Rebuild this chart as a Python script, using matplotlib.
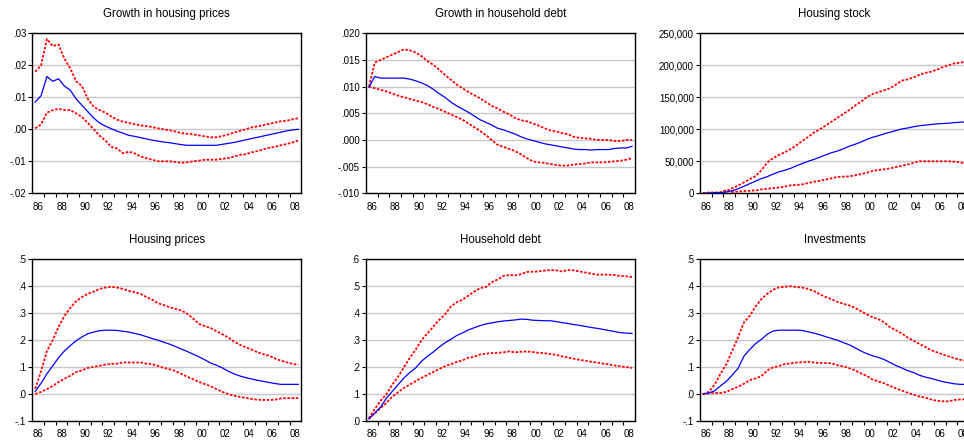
import numpy as np
import matplotlib
matplotlib.use("Agg")
from matplotlib import pyplot as plt
from matplotlib.ticker import FixedLocator, FuncFormatter

plt.rcParams['font.family'] = ['Liberation Sans', 'DejaVu Sans']

# ___DATA___ #
# Impulse responses, half-year samples from 1986Q2 to 2008Q4 (46 points).
quarters = 1986.25 + 0.5 * np.arange(46)

titles = ["Growth in housing prices", "Growth in household debt", "Housing stock",
          "Housing prices", "Household debt", "Investments"]

# Growth in housing prices
hp_growth_mid = [0.0085, 0.0105, 0.0165, 0.015, 0.0158, 0.0135, 0.0122, 0.0095, 0.0075, 0.0055,
                 0.0035, 0.002, 0.001, 0.0002, -0.0006, -0.0012, -0.0019, -0.0022, -0.0026, -0.003,
                 -0.0034, -0.0037, -0.004, -0.0042, -0.0045, -0.0048, -0.005, -0.005, -0.005, -0.005,
                 -0.005, -0.005, -0.0047, -0.0044, -0.0041, -0.0037, -0.0033, -0.0029, -0.0025, -0.0021,
                 -0.0017, -0.0013, -0.0009, -0.0005, -0.0002, 0.0]
hp_growth_hi = [0.018, 0.020, 0.0282, 0.026, 0.0265, 0.022, 0.019, 0.015, 0.0135, 0.0095,
                0.007, 0.006, 0.0052, 0.004, 0.003, 0.0024, 0.002, 0.0016, 0.0012, 0.001,
                0.0007, 0.0003, 0.0, -0.0003, -0.0007, -0.0012, -0.0014, -0.0016, -0.0019, -0.0022,
                -0.0025, -0.0025, -0.0021, -0.0016, -0.001, -0.0005, 0.0, 0.0006, 0.0009, 0.0013,
                0.0017, 0.0021, 0.0025, 0.0027, 0.0031, 0.0035]
hp_growth_lo = [0.0003, 0.0015, 0.0052, 0.006, 0.0064, 0.006, 0.006, 0.005, 0.0038, 0.002,
                0.0, -0.002, -0.0035, -0.0055, -0.006, -0.0075, -0.007, -0.0075, -0.0085, -0.009,
                -0.0095, -0.01, -0.01, -0.01, -0.0102, -0.0105, -0.0103, -0.01, -0.0098, -0.0095,
                -0.0095, -0.0095, -0.0092, -0.009, -0.0085, -0.008, -0.0078, -0.0072, -0.0068, -0.0063,
                -0.0058, -0.0055, -0.005, -0.0046, -0.0041, -0.0035]

# Growth in household debt
debt_growth_mid = [0.0099, 0.0119, 0.0116, 0.0116, 0.0116, 0.0116, 0.0116, 0.0114, 0.0111, 0.0107,
                   0.0102, 0.0095, 0.0087, 0.008, 0.0071, 0.0064, 0.0058, 0.0052, 0.0045, 0.0038,
                   0.0033, 0.0028, 0.0022, 0.0019, 0.0015, 0.0011, 0.0006, 0.0002, -0.0001, -0.0004,
                   -0.0007, -0.0009, -0.0011, -0.0013, -0.0015, -0.0017, -0.0018, -0.0018, -0.0019, -0.0018,
                   -0.0018, -0.0018, -0.0016, -0.0015, -0.0015, -0.0012]
debt_growth_hi = [0.0100, 0.0145, 0.015, 0.0155, 0.016, 0.0165, 0.017, 0.0168, 0.0164, 0.0157,
                  0.0148, 0.0141, 0.0132, 0.0122, 0.0113, 0.0104, 0.0097, 0.009, 0.0084, 0.0078,
                  0.0071, 0.0064, 0.0059, 0.0053, 0.0048, 0.0041, 0.0037, 0.0035, 0.0031, 0.0027,
                  0.0022, 0.0018, 0.0016, 0.0013, 0.0011, 0.0006, 0.0004, 0.0003, 0.0002, 0.0,
                  0.0, 0.0, -0.0002, -0.0002, 0.0, 0.0]
debt_growth_lo = [0.0100, 0.0097, 0.0094, 0.0091, 0.0087, 0.0083, 0.008, 0.0077, 0.0074, 0.0071,
                  0.0067, 0.0062, 0.0058, 0.0053, 0.0048, 0.0043, 0.0038, 0.0031, 0.0024, 0.0017,
                  0.0009, 0.0, -0.0009, -0.0013, -0.0017, -0.0021, -0.0027, -0.0034, -0.004, -0.0042,
                  -0.0043, -0.0045, -0.0047, -0.0048, -0.0048, -0.0046, -0.0045, -0.0044, -0.0042, -0.0042,
                  -0.0042, -0.0041, -0.004, -0.0039, -0.0037, -0.0034]

# Housing stock
stock_mid = [0, 500, 1000, 1000, 2000, 4000, 7000, 11000, 15000, 19000,
             23000, 26000, 30000, 33500, 36000, 39000, 43000, 46500, 50000, 53000,
             56500, 60000, 63500, 66000, 69500, 73500, 76500, 80000, 84000, 87500,
             90000, 93000, 95500, 98000, 100500, 102000, 104000, 105500, 106500, 107500,
             108500, 109000, 109500, 110500, 111000, 111500]
stock_hi = [0, 1000, 1000, 1000, 3000, 8000, 12000, 17000, 22000, 27000,
            36000, 48000, 55000, 60000, 64000, 69000, 75000, 82000, 88000, 95000,
            100000, 106000, 112000, 118000, 124000, 130000, 137000, 143000, 150000, 155000,
            158000, 161000, 164000, 170000, 176000, 178000, 181000, 185000, 188000, 190000,
            193000, 197000, 200000, 203000, 204000, 206000]
stock_lo = [0, 1000, 1000, 1500, 5000, 2000, 2500, 3500, 4000, 4500,
            6000, 7000, 8000, 9000, 10500, 12500, 13000, 14000, 16000, 18000,
            19500, 21500, 23500, 25500, 26000, 26500, 28000, 30000, 32000, 35000,
            36500, 37500, 39000, 41000, 43000, 45000, 47500, 50000, 50000, 50000,
            50000, 50000, 50000, 49500, 48000, 47000]

# Housing prices
prices_mid = [0.01, 0.04, 0.075, 0.105, 0.135, 0.16, 0.18, 0.198, 0.212, 0.224,
              0.23, 0.235, 0.237, 0.237, 0.236, 0.233, 0.23, 0.225, 0.22, 0.213,
              0.206, 0.2, 0.192, 0.185, 0.176, 0.167, 0.158, 0.148, 0.138, 0.127,
              0.115, 0.107, 0.097, 0.085, 0.075, 0.067, 0.061, 0.056, 0.051, 0.047,
              0.043, 0.039, 0.036, 0.036, 0.036, 0.036]
prices_hi = [0.02, 0.085, 0.16, 0.2, 0.25, 0.29, 0.32, 0.345, 0.36, 0.372,
             0.38, 0.39, 0.395, 0.398, 0.395, 0.39, 0.383, 0.378, 0.372, 0.36,
             0.35, 0.337, 0.33, 0.322, 0.316, 0.31, 0.298, 0.28, 0.26, 0.252,
             0.245, 0.233, 0.222, 0.21, 0.195, 0.183, 0.173, 0.165, 0.155, 0.148,
             0.142, 0.132, 0.124, 0.118, 0.112, 0.108]
prices_lo = [0.0, 0.008, 0.018, 0.03, 0.045, 0.057, 0.068, 0.082, 0.088, 0.097,
             0.101, 0.105, 0.109, 0.112, 0.113, 0.117, 0.117, 0.117, 0.117, 0.113,
             0.111, 0.104, 0.097, 0.092, 0.085, 0.075, 0.064, 0.055, 0.045, 0.037,
             0.029, 0.018, 0.008, 0.0, -0.006, -0.011, -0.014, -0.018, -0.021, -0.022,
             -0.022, -0.021, -0.016, -0.015, -0.015, -0.015]

# Household debt
debt_mid = [0.008, 0.03, 0.052, 0.085, 0.11, 0.135, 0.16, 0.18, 0.197, 0.222,
            0.24, 0.256, 0.274, 0.29, 0.303, 0.317, 0.327, 0.338, 0.346, 0.354,
            0.36, 0.364, 0.368, 0.371, 0.373, 0.375, 0.378, 0.377, 0.374, 0.373,
            0.372, 0.372, 0.369, 0.365, 0.362, 0.358, 0.355, 0.351, 0.347, 0.344,
            0.34, 0.336, 0.332, 0.328, 0.326, 0.325]
debt_hi = [0.01, 0.045, 0.075, 0.1, 0.135, 0.165, 0.2, 0.235, 0.265, 0.3,
           0.325, 0.35, 0.375, 0.395, 0.425, 0.44, 0.45, 0.465, 0.48, 0.493,
           0.497, 0.515, 0.525, 0.538, 0.542, 0.54, 0.545, 0.553, 0.554, 0.555,
           0.558, 0.56, 0.559, 0.555, 0.56, 0.559, 0.555, 0.551, 0.547, 0.543,
           0.543, 0.543, 0.542, 0.538, 0.537, 0.534]
debt_lo = [0.008, 0.028, 0.048, 0.068, 0.09, 0.107, 0.123, 0.135, 0.148, 0.16,
           0.171, 0.182, 0.193, 0.203, 0.211, 0.219, 0.225, 0.235, 0.238, 0.247,
           0.25, 0.252, 0.253, 0.255, 0.258, 0.255, 0.257, 0.258, 0.256, 0.253,
           0.252, 0.248, 0.246, 0.24, 0.236, 0.231, 0.227, 0.224, 0.22, 0.217,
           0.213, 0.21, 0.206, 0.203, 0.2, 0.197]

# Investments
invest_mid = [0.0, 0.004, 0.012, 0.03, 0.047, 0.07, 0.095, 0.14, 0.165, 0.187,
              0.203, 0.222, 0.234, 0.237, 0.237, 0.237, 0.237, 0.236, 0.231, 0.226,
              0.22, 0.213, 0.206, 0.2, 0.191, 0.183, 0.172, 0.16, 0.15, 0.142,
              0.136, 0.128, 0.117, 0.106, 0.097, 0.087, 0.08, 0.07, 0.063, 0.058,
              0.052, 0.046, 0.042, 0.038, 0.036, 0.036]
invest_hi = [0.0, 0.008, 0.035, 0.075, 0.11, 0.16, 0.21, 0.265, 0.29, 0.325,
             0.352, 0.372, 0.387, 0.396, 0.398, 0.4, 0.397, 0.395, 0.39, 0.382,
             0.37, 0.36, 0.352, 0.342, 0.335, 0.329, 0.32, 0.308, 0.296, 0.285,
             0.278, 0.266, 0.248, 0.237, 0.225, 0.21, 0.198, 0.186, 0.175, 0.163,
             0.155, 0.147, 0.14, 0.133, 0.127, 0.123]
invest_lo = [0.0, 0.002, 0.004, 0.004, 0.008, 0.018, 0.027, 0.038, 0.052, 0.058,
             0.066, 0.088, 0.099, 0.104, 0.111, 0.114, 0.117, 0.118, 0.12, 0.117,
             0.115, 0.115, 0.114, 0.107, 0.103, 0.096, 0.088, 0.077, 0.068, 0.054,
             0.047, 0.04, 0.03, 0.021, 0.013, 0.005, -0.002, -0.009, -0.013, -0.02,
             -0.025, -0.027, -0.027, -0.022, -0.02, -0.02]

# y-axis ranges, tick step and number of decimals for the tick labels
y_ranges = [(-0.02, 0.03), (-0.010, 0.020), (0, 250000), (-0.1, 0.5), (0.0, 0.6), (-0.1, 0.5)]
y_steps = [0.01, 0.005, 50000, 0.1, 0.1, 0.1]
y_decimals = [2, 3, None, 1, 1, 1]

panels = [(hp_growth_mid, hp_growth_lo, hp_growth_hi),
          (debt_growth_mid, debt_growth_lo, debt_growth_hi),
          (stock_mid, stock_lo, stock_hi),
          (prices_mid, prices_lo, prices_hi),
          (debt_mid, debt_lo, debt_hi),
          (invest_mid, invest_lo, invest_hi)]


# EViews style labels: ".03", "-.01", "50,000"
def MakeFormatter(decimals):
    def fmt(v, pos):
        if decimals is None:
            return f"{v:,.0f}"
        s = f"{v:.{decimals}f}"
        if abs(v) < 1e-12:
            s = f"{0:.{decimals}f}"
        return s.replace("-0.", "-.").replace("0.", ".", 1) if s.startswith(("0.", "-0.")) else s
    return fmt


# ___THE PLOTTING___ #
W, H = 964, 443
fig = plt.figure(figsize=(W / 100, H / 100), dpi=100)

col_left = [32.3, 366, 700]
row_top = [33.3, 259.3]
row_height = [160, 161.7]
ax_width = 269

for i, (mid, lo, hi) in enumerate(panels):
    r, c = divmod(i, 3)
    left = col_left[c] / W
    bottom = (H - row_top[r] - row_height[r]) / H
    ax = fig.add_axes([left, bottom, ax_width / W, row_height[r] / H])

    ax.plot(quarters, hi, color="#ff0000", lw=1.3, ls=(0, (1.4, 0.9)), zorder=3)
    ax.plot(quarters, lo, color="#ff0000", lw=1.3, ls=(0, (1.4, 0.9)), zorder=3)
    ax.plot(quarters, mid, color="#0000ff", lw=0.9, zorder=4)

    ax.set_xlim(1986, 2009)
    ymin, ymax = y_ranges[i]
    ax.set_ylim(ymin, ymax)
    ax.yaxis.set_major_locator(FixedLocator(np.arange(ymin, ymax + y_steps[i] / 2, y_steps[i])))
    ax.yaxis.set_major_formatter(FuncFormatter(MakeFormatter(y_decimals[i])))
    ax.grid(axis="y", color="#c8c8c8", lw=1.0, zorder=0)

    # Year ticks on boundaries, labels centred inside every other year.
    ax.xaxis.set_major_locator(FixedLocator(np.arange(1987, 2009)))
    ax.xaxis.set_major_formatter(FuncFormatter(lambda v, p: ""))
    ax.xaxis.set_minor_locator(FixedLocator(np.arange(1986.5, 2009, 2)))
    ax.xaxis.set_minor_formatter(FuncFormatter(lambda v, p: f"{int(v) % 100:02d}"))
    ax.tick_params(axis="x", which="major", length=3, width=0.8, direction="out")
    ax.tick_params(axis="x", which="minor", length=0, pad=6, labelsize=7)
    ax.tick_params(axis="y", length=3, width=0.8, direction="out", pad=1.5, labelsize=7)

    for spine in ax.spines.values():
        spine.set_linewidth(1.0)
        spine.set_color("black")

    ax.set_title(titles[i], fontsize=8.3, pad=12)

fig.savefig("out.png", dpi=100)
